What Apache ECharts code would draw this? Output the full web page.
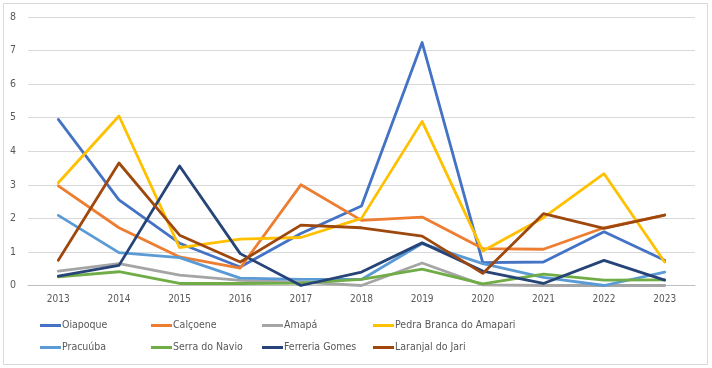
<!DOCTYPE html>
<html><head><meta charset="utf-8">
<script src="https://cdn.jsdelivr.net/npm/echarts@6/dist/echarts.min.js"></script>
<style>html,body{margin:0;padding:0;background:#fff}#c{width:712px;height:368px}</style>
</head><body><div id="c"></div>
<script>
var years = ['2013','2014','2015','2016','2017','2018','2019','2020','2021','2022','2023'];
var yTicks = [0,1,2,3,4,5,6,7,8];
var oiapoque   = [4.95,2.55,1.26,0.55,1.55,2.37,7.24,0.68,0.70,1.60,0.75];
var calcoene   = [2.97,1.72,0.85,0.52,3.00,1.94,2.04,1.10,1.08,1.72,2.10];
var amapa      = [0.43,0.65,0.31,0.15,0.10,0.00,0.67,0.02,0.00,0.00,0.00];
var pedraBranca= [3.06,5.05,1.13,1.38,1.43,2.00,4.89,1.03,2.02,3.33,0.70];
var pracuuba   = [2.09,0.98,0.83,0.22,0.18,0.18,1.25,0.65,0.24,0.00,0.40];
var serraNavio = [0.26,0.41,0.06,0.06,0.07,0.18,0.49,0.05,0.34,0.16,0.17];
var ferreira   = [0.28,0.60,3.56,0.95,0.00,0.40,1.27,0.43,0.06,0.75,0.16];
var laranjal   = [0.75,3.65,1.50,0.70,1.80,1.72,1.47,0.36,2.14,1.70,2.10];

var names = ['Oiapoque','Calçoene','Amapá','Pedra Branca do Amapari','Pracuúba','Serra do Navio','Ferreria Gomes','Laranjal do Jari'];
var colors = ['#4472C4','#ED7D31','#A5A5A5','#FFC000','#5B9BD5','#70AD47','#264478','#9E480E'];
var datas = [oiapoque,calcoene,amapa,pedraBranca,pracuuba,serraNavio,ferreira,laranjal];

var font = '"DejaVu Sans Condensed", "Liberation Sans Narrow", "Liberation Sans", sans-serif';
var legendX = [40,151,262,373];
var legendY = [320,342];
var legends = names.map(function(n,i){
  return {data:[n], left:legendX[i%4], top:legendY[Math.floor(i/4)], itemWidth:21, itemHeight:3, itemGap:0,
    padding:0, icon:'rect', textStyle:{color:'#595959', fontFamily:font, fontSize:10.5, padding:[0,0,0,-4]}};
});

var chart = echarts.init(document.getElementById('c'));
chart.setOption({
  animation:false,
  backgroundColor:'#fff',
  graphic:[{type:'rect', shape:{x:3.5,y:3.5,width:704,height:361}, style:{fill:'none', stroke:'#D9D9D9', lineWidth:1}}],
  grid:{left:28, right:17, top:17, height:268.5},
  legend:legends,
  xAxis:{type:'category', data:years, boundaryGap:true,
    axisLine:{lineStyle:{color:'#BFBFBF', width:1}}, axisTick:{show:false},
    axisLabel:{color:'#595959', fontFamily:font, fontSize:10, margin:9}},
  yAxis:{type:'value', min:yTicks[0], max:yTicks[yTicks.length-1], interval:1,
    axisLine:{show:false}, axisTick:{show:false},
    splitLine:{lineStyle:{color:'#D9D9D9', width:1}},
    axisLabel:{color:'#595959', fontFamily:font, fontSize:10.5, margin:12}},
  series: names.map(function(n,i){
    return {name:n, type:'line', data:datas[i], symbol:'none', smooth:false,
      lineStyle:{color:colors[i], width:2.8, cap:'round', join:'round'}, itemStyle:{color:colors[i]}};
  })
});
</script></body></html>
